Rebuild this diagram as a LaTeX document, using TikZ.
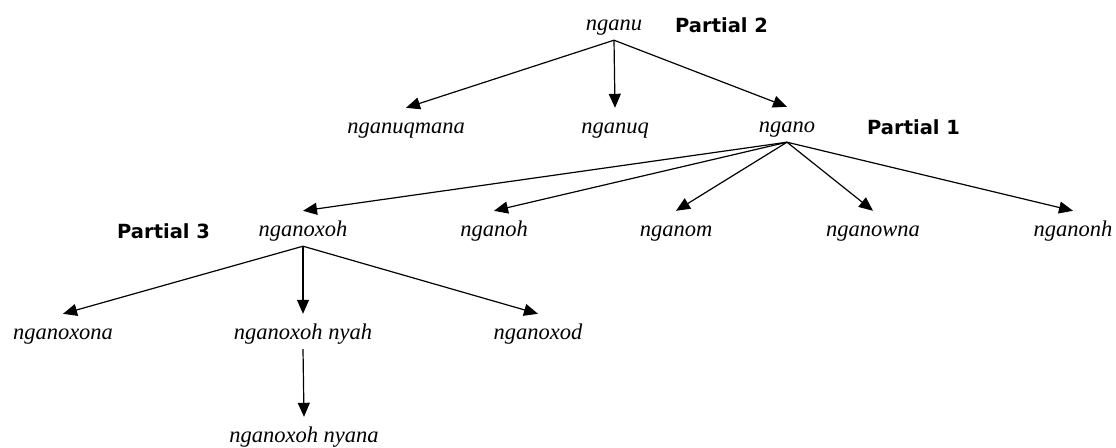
\documentclass[tikz,border=0pt]{standalone}
\usepackage{fontspec}
\newfontfamily\partfont{DejaVu Sans}
\newfontfamily\lblfont{Liberation Serif}
\usetikzlibrary{arrows.meta}
\begin{document}
\begin{tikzpicture}[x=1pt,y=-1pt,
  lbl/.style={font=\lblfont\itshape\fontsize{22.5}{26}\selectfont, inner sep=0pt, text height=25pt, text depth=10pt, anchor=base},
  part/.style={font=\partfont\bfseries\fontsize{19.5}{23}\selectfont, inner sep=0pt, anchor=base west},
  arr/.style={-{Triangle[length=14pt,width=12pt]}, line width=1.2pt}]
\useasboundingbox[fill=white] (0,0) rectangle (1116,447);
% level 1
\node[lbl] (nganu) at (614,30) {nganu};
\node[part] (p2) at (675,32) {Partial 2};
% level 2
\node[lbl] (nganuqmana) at (406,133) {nganuqmana};
\node[lbl] (nganuq) at (615,133) {nganuq};
\node[lbl] (ngano) at (787,132) {ngano};
\node[part] (p1) at (867,134) {Partial 1};
% level 3
\node[part] (p3) at (117,238) {Partial 3};
\node[lbl] (nganoxoh) at (303,236) {nganoxoh};
\node[lbl] (nganoh) at (494,236) {nganoh};
\node[lbl] (nganom) at (676,236) {nganom};
\node[lbl] (nganowna) at (873,236) {nganowna};
\node[lbl] (nganonh) at (1073,236) {nganonh};
% level 4
\node[lbl] (nganoxona) at (63,339) {nganoxona};
\node[lbl] (nyah) at (303,339) {nganoxoh nyah};
\node[lbl] (nganoxod) at (538,339) {nganoxod};
% level 5
\node[lbl] (nyana) at (304,442) {nganoxoh nyana};
% edges
\draw[arr] (nganu.south) -- (nganuqmana.north);
\draw[arr] (nganu.south) -- (nganuq.north);
\draw[arr] (nganu.south) -- (ngano.north);
\draw[arr] (ngano.south) -- (nganoxoh.north);
\draw[arr] (ngano.south) -- (nganoh.north);
\draw[arr] (ngano.south) -- (nganom.north);
\draw[arr] (ngano.south) -- (nganowna.north);
\draw[arr] (ngano.south) -- (nganonh.north);
\draw[arr] (nganoxoh.south) -- (nganoxona.north);
\draw[arr] (nganoxoh.south) -- (nyah.north);
\draw[arr] (nganoxoh.south) -- (nganoxod.north);
\draw[arr] (nyah.south) -- (nyana.north);
\end{tikzpicture}
\end{document}
